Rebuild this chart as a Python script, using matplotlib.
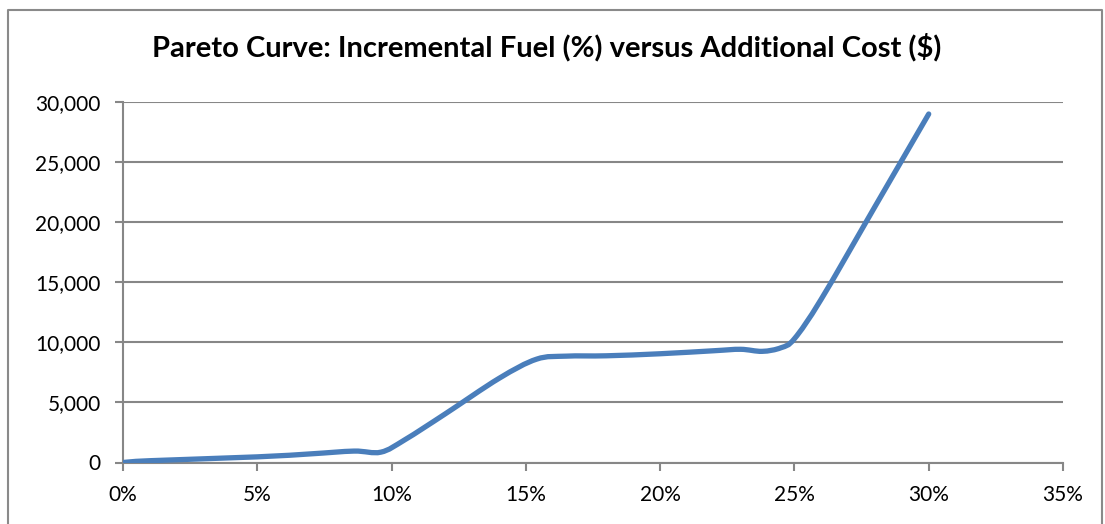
import numpy as np
import matplotlib
matplotlib.use("Agg")
import matplotlib.pyplot as plt
from matplotlib.path import Path
from matplotlib.patches import PathPatch
from matplotlib.ticker import FuncFormatter, MultipleLocator

# incremental fuel (%) vs additional cost ($)
fuel_pct = [0, 1, 5, 7, 8.6, 9.6, 10.5, 12, 14, 15.4, 16.5, 18, 20, 22, 23, 23.8, 24.5, 25, 26, 28, 30]
cost = [0, 150, 470, 720, 950, 860, 1900, 4050, 7000, 8600, 8850, 8880, 9050, 9300, 9420, 9250,
        9550, 10300, 13600, 21300, 29000]

title = "Pareto Curve: Incremental Fuel (%) versus Additional Cost ($)"
line_col = "#4A7EBB"
grid_col = "#878787"

plt.rcParams['font.family'] = ['Lato', 'DejaVu Sans']

fig = plt.figure(figsize=(11.05, 5.24), dpi=100)
ax = fig.add_axes([123 / 1105, 1 - 462.5 / 524, 940 / 1105, 360.5 / 524])


def smooth_path(xs, ys):
    # excel-like smoothed line: cubic bezier, control points from neighbours / 6
    p = np.column_stack([xs, ys]).astype(float)
    n = len(p)
    verts = [p[0]]
    codes = [Path.MOVETO]
    for i in range(n - 1):
        p0 = p[i - 1] if i > 0 else p[i]
        p1, p2 = p[i], p[i + 1]
        p3 = p[i + 2] if i + 2 < n else p[i + 1]
        c1 = p1 + (p2 - p0) / 6
        c2 = p2 - (p3 - p1) / 6
        verts += [c1, c2, p2]
        codes += [Path.CURVE4] * 3
    return Path(verts, codes)


ax.add_patch(PathPatch(smooth_path(fuel_pct, cost), fill=False, edgecolor=line_col,
                       lw=3.8, capstyle='round', joinstyle='round', zorder=3))

ax.set_xlim(0, 35)
ax.set_ylim(0, 30000)
ax.xaxis.set_major_locator(MultipleLocator(5))
ax.yaxis.set_major_locator(MultipleLocator(5000))
ax.xaxis.set_major_formatter(FuncFormatter(lambda v, _: f"{v:.0f}%"))
ax.yaxis.set_major_formatter(FuncFormatter(lambda v, _: f"{v:,.0f}"))

ax.grid(axis='y', color=grid_col, lw=1.5)
ax.set_axisbelow(True)
for s in ['top', 'right']:
    ax.spines[s].set_visible(False)
for s in ['left', 'bottom']:
    ax.spines[s].set_color(grid_col)
    ax.spines[s].set_linewidth(1.5)
ax.tick_params(axis='both', color=grid_col, width=1.5, length=6, labelsize=15, direction='out')
ax.tick_params(axis='y', pad=10)
ax.tick_params(axis='x', pad=10)

fig.text(0.495, 0.91, title, ha='center', va='center', fontsize=21, fontweight='bold')

# chart border
fig.add_artist(plt.Line2D([8 / 1105, 8 / 1105, 1102 / 1105, 1102 / 1105],
                          [0, 1 - 10 / 524, 1 - 10 / 524, 0],
                          transform=fig.transFigure, color='#8a8a8a', lw=1.5))

fig.savefig("out.png", dpi=100)
